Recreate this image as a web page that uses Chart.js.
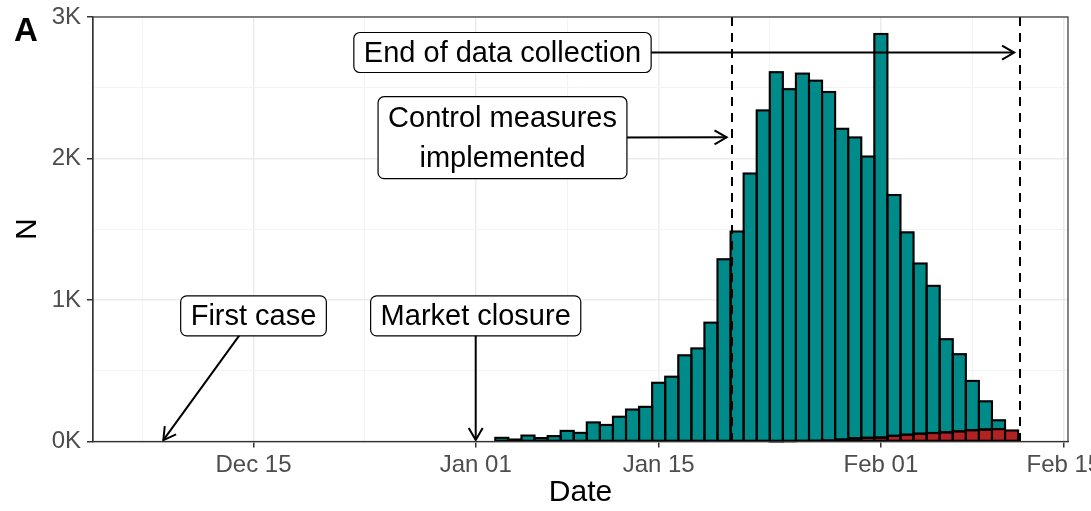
<!DOCTYPE html>
<html><head><meta charset="utf-8">
<script src="https://cdn.jsdelivr.net/npm/chart.js@4/dist/chart.umd.min.js"></script>
<style>html,body{margin:0;padding:0;background:#fff}#wrap{width:1091px;height:511px}</style>
</head><body><div id="wrap"><canvas id="c" width="1091" height="511"></canvas></div>
<script>
// ---- data (x = days after 2020-01-01) ----
const dayOffsets = [2,3,4,5,6,7,8,9,10,11,12,13,14,15,16,17,18,19,20,21,22,23,24,25,26,27,28,29,30,31,32,33,34,35,36,37,38,39,40,41];
const tealValues = [26,14,42,24,38,75,61,135,117,175,226,245,415,458,609,658,840,1288,1484,1894,2340,2608,2487,2596,2545,2463,2196,2127,1988,2852,1702,1430,1203,1040,658,545,348,199,62,0];
const redValues  = [0,0,0,0,0,0,0,0,0,0,0,0,0,0,0,0,0,0,0,0,0,2,3,4,5,7,14,22,26,28,40,48,55,60,65,72,80,85,88,78];
const xMajorTicks = [-17,0,14,31,45];
const xMajorLabels = ['Dec 15','Jan 01','Jan 15','Feb 01','Feb 15'];
const xMinorTicks = [-25.5,-8.5,7,22.5,38];
const yMajorTicks = [0,1000,2000,3000];
const yMajorLabels = ['0K','1K','2K','3K'];
const yMinorTicks = [500,1500,2500];
const eventLines = [19.6, 41.65];
const labelTexts = [['End of data collection'],['Control measures','implemented'],['First case'],['Market closure']];
const labelAt = [[2.05,2749],[2.05,2147],[-17,888],[0,888]];
const arrowTo = [[41.2,2749],[19.2,2150],[-23.9,10],[0,10]];

// ---- layout / style ----
const AREA = {left:93, top:17, right:1068, bottom:441.5};
const FONT = '"Liberation Sans", Arial, Helvetica, sans-serif';

const allXTicks = xMajorTicks.concat(xMinorTicks).sort((a,b)=>a-b);
const allYTicks = yMajorTicks.concat(yMinorTicks).sort((a,b)=>a-b);
const isMajorX = v => xMajorTicks.indexOf(v) >= 0;
const isMajorY = v => yMajorTicks.indexOf(v) >= 0;

const annot = {
  id:'annot',
  afterDatasetsDraw(chart){
    const {ctx, chartArea:ca, scales:{x,y}} = chart;
    ctx.save();
    // bar outlines (centered on bar edges, like ggplot)
    ctx.strokeStyle='#000'; ctx.lineWidth=2.1; ctx.lineJoin='miter';
    chart.data.datasets.forEach((ds,di)=>{
      const meta=chart.getDatasetMeta(di);
      meta.data.forEach((el,i)=>{
        const raw=ds.data[i]; if(!raw||!raw.y) return;
        const p=el.getProps(['x','y','base','width'],true);
        const l=p.x-p.width/2, t=Math.min(p.y,p.base), h=Math.abs(p.base-p.y);
        ctx.strokeRect(l,t,p.width,h);
      });
    });
    // dashed event lines
    ctx.strokeStyle='#000'; ctx.lineWidth=2; ctx.setLineDash([9,7]);
    eventLines.forEach(d=>{const px=Math.round(x.getPixelForValue(d));ctx.beginPath();ctx.moveTo(px,ca.top);ctx.lineTo(px,ca.bottom);ctx.stroke();});
    ctx.setLineDash([]);
    // arrows
    labelAt.forEach((p,i)=>{
      const x0=x.getPixelForValue(p[0]), y0=y.getPixelForValue(p[1]);
      const x1=x.getPixelForValue(arrowTo[i][0]), y1=y.getPixelForValue(arrowTo[i][1]);
      ctx.lineWidth=2; ctx.strokeStyle='#000';
      ctx.beginPath();ctx.moveTo(x0,y0);ctx.lineTo(x1,y1);ctx.stroke();
      const ang=Math.atan2(y1-y0,x1-x0), L=14, A=Math.PI/6;
      ctx.beginPath();
      ctx.moveTo(x1-L*Math.cos(ang-A), y1-L*Math.sin(ang-A));
      ctx.lineTo(x1,y1);
      ctx.lineTo(x1-L*Math.cos(ang+A), y1-L*Math.sin(ang+A));
      ctx.stroke();
    });
    // label boxes
    ctx.font='29px '+FONT;
    labelTexts.forEach((lines,i)=>{
      const cx=x.getPixelForValue(labelAt[i][0]), cy=y.getPixelForValue(labelAt[i][1]);
      const w=Math.max(...lines.map(t=>ctx.measureText(t).width))+20;
      const lh=40, h=lines.length*lh+(lines.length>1?2:0);
      const bx=cx-w/2, by=cy-h/2;
      ctx.beginPath(); ctx.roundRect(bx,by,w,h,6);
      ctx.fillStyle='#fff'; ctx.fill();
      ctx.lineWidth=1.2; ctx.strokeStyle='#000'; ctx.stroke();
      ctx.fillStyle='#000'; ctx.textAlign='center'; ctx.textBaseline='middle';
      lines.forEach((t,j)=>ctx.fillText(t,cx,cy-(lines.length-1)*lh/2+j*lh+1));
    });
    ctx.restore();
  },
  afterDraw(chart){
    const {ctx, chartArea:ca} = chart;
    ctx.save();
    ctx.strokeStyle='#333'; ctx.lineWidth=1.2;
    ctx.strokeRect(ca.left,ca.top,ca.right-ca.left,ca.bottom-ca.top);
    ctx.fillStyle='#000'; ctx.textAlign='center'; ctx.textBaseline='middle';
    ctx.font='30px '+FONT;
    ctx.fillText('Date',(ca.left+ca.right)/2,493);
    ctx.translate(28,(ca.top+ca.bottom)/2); ctx.rotate(-Math.PI/2);
    ctx.fillText('N',0,0);
    ctx.setTransform(1,0,0,1,0,0);
    ctx.font='bold 33px '+FONT; ctx.textAlign='left'; ctx.textBaseline='alphabetic';
    ctx.fillText('A',14,41);
    ctx.restore();
  }
};

const toPts = arr => dayOffsets.map((d,i)=>({x:d, y: arr[i] ? arr[i] : null}));
const barCommon = {borderWidth:0, barPercentage:1, categoryPercentage:1, inflateAmount:0.5};

new Chart(document.getElementById('c'), {
  type:'bar',
  data:{datasets:[
    Object.assign({label:'red', data:toPts(redValues), backgroundColor:'#B22222'}, barCommon),
    Object.assign({label:'teal', data:toPts(tealValues), backgroundColor:'#008B8B'}, barCommon)
  ]},
  plugins:[annot],
  options:{
    responsive:false, animation:false, devicePixelRatio:1,
    layout:{padding:{left:0, top:AREA.top, right:1091-AREA.right, bottom:0}},
    plugins:{legend:{display:false}, tooltip:{enabled:false}},
    scales:{
      x:{type:'linear', stacked:true, offset:false,
        min:(AREA.left-475.7)/13.07, max:(AREA.right-475.7)/13.07,
        afterBuildTicks(s){s.ticks=allXTicks.map(v=>({value:v}));},
        afterFit(s){s.height=511-AREA.bottom; s.paddingLeft=0; s.paddingRight=0;},
        ticks:{autoSkip:false, maxRotation:0, minRotation:0, padding:3, color:'#4D4D4D', font:{family:FONT,size:24},
          callback:v=>{const k=xMajorTicks.indexOf(v);return k>=0?xMajorLabels[k]:'';}},
        grid:{offset:false, color:c=>isMajorX(c.tick&&c.tick.value)?'#EBEBEB':'#F3F3F3', lineWidth:c=>isMajorX(c.tick&&c.tick.value)?1.5:1,
          tickLength:6, tickColor:c=>isMajorX(c.tick&&c.tick.value)?'#333':'rgba(0,0,0,0)', tickWidth:1.5},
        border:{display:true,color:'#333',width:1.2}
      },
      y:{stacked:true, min:0, max:3000,
        afterBuildTicks(s){s.ticks=allYTicks.map(v=>({value:v}));},
        afterFit(s){s.width=AREA.left; s.paddingTop=0; s.paddingBottom=0;},
        ticks:{padding:6, color:'#4D4D4D', font:{family:FONT,size:24},
          callback:v=>{const k=yMajorTicks.indexOf(v);return k>=0?yMajorLabels[k]:'';}},
        grid:{color:c=>isMajorY(c.tick&&c.tick.value)?'#EBEBEB':'#F3F3F3', lineWidth:c=>isMajorY(c.tick&&c.tick.value)?1.5:1,
          tickLength:6, tickColor:c=>isMajorY(c.tick&&c.tick.value)?'#333':'rgba(0,0,0,0)', tickWidth:1.5},
        border:{display:true,color:'#333',width:1.2}
      }
    }
  }
});
</script></body></html>
